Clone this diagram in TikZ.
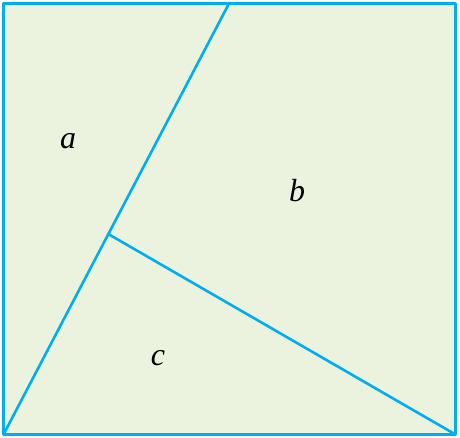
\documentclass[tikz,border=0pt]{standalone}
\usepackage{fontspec}
\setmainfont{Liberation Serif}
\usetikzlibrary{calc}
\definecolor{edge}{HTML}{00AEEF}
\definecolor{bg}{HTML}{EBF3DF}
\tikzset{seg/.style={draw=edge,line width=2.6pt,line cap=round,line join=round},
lab/.style={font=\fontsize{32}{32}\selectfont\itshape,inner sep=0pt}}
\begin{document}
\begin{tikzpicture}[x=1pt,y=-1pt]
\useasboundingbox (0,0) rectangle (460,438);
\coordinate (tl) at (3.5,3.5);
\coordinate (br) at (455.5,434.5);
\coordinate (bl) at (3.5,434.5);
\coordinate (top) at (229,3.5);
\coordinate (j) at ($(bl)!0.465!(top)$);
\fill[bg] (tl) rectangle (br);
\draw[seg] (bl) -- (top);
\draw[seg] (j) -- (br);
\draw[seg] (tl) rectangle (br);
\node[lab] (a) at (68,141) {a};
\node[lab] (b) at (297,191) {b};
\node[lab] (c) at (158,358) {c};
\end{tikzpicture}
\end{document}
